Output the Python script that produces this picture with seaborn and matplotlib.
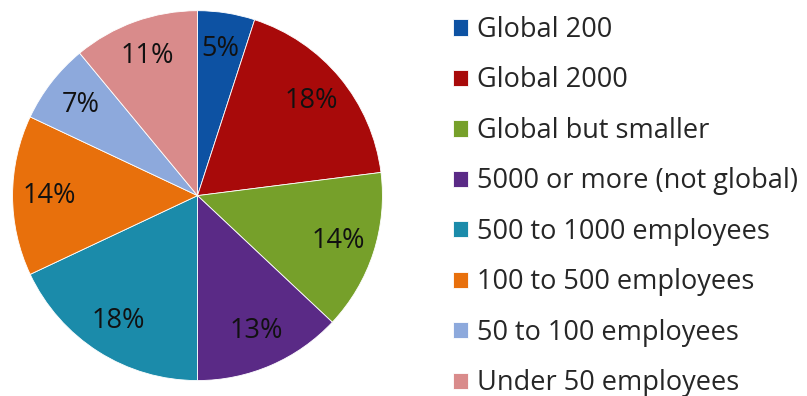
import matplotlib
matplotlib.use("Agg")
import matplotlib.pyplot as plt
import seaborn as sns

categories = [
    "Global 200",
    "Global 2000",
    "Global but smaller",
    "5000 or more (not global)",
    "500 to 1000 employees",
    "100 to 500 employees",
    "50 to 100 employees",
    "Under 50 employees",
]
shares = [5, 18, 14, 13, 18, 14, 7, 11]
slice_colors = ["#0D52A3", "#A80A0A", "#76A02A", "#5A2A86",
                "#1B8BAA", "#E8700C", "#8DA9DC", "#D98B8B"]

sns.set_theme(style="white")
plt.rcParams["font.family"] = ["Open Sans", "DejaVu Sans"]

palette = sns.color_palette(slice_colors)

fig = plt.figure(figsize=(8.07, 3.96), dpi=100)
ax = fig.add_axes([0.0155, 0.039, 0.4585, 0.934])

wedges, texts, autotexts = ax.pie(
    shares,
    colors=palette,
    startangle=90,
    counterclock=False,
    autopct=lambda p: f"{p:.0f}%",
    pctdistance=0.8,
    wedgeprops=dict(edgecolor="white", linewidth=0.6),
    textprops=dict(fontsize=19.5, color="#111111"),
)
ax.set_xlim(-1, 1)
ax.set_ylim(-1, 1)
ax.set_aspect("equal")
ax.axis("off")

fig.legend(
    wedges, categories,
    loc="upper left",
    bbox_to_anchor=(0.561, 0.9596),
    frameon=False,
    fontsize=19.5,
    handlelength=0.55,
    handleheight=0.55,
    handletextpad=0.33,
    labelspacing=0.83,
    borderpad=0.0,
    borderaxespad=0.0,
)

fig.savefig("out.png", dpi=100)
